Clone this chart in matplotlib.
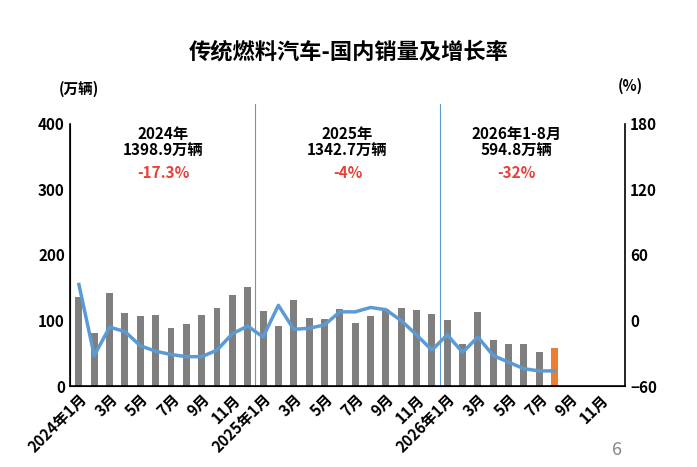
import matplotlib
matplotlib.use("Agg")
import matplotlib.pyplot as plt
import numpy as np

plt.rcParams['font.family'] = ['Noto Sans CJK SC', 'DejaVu Sans']

months = [f"{y}年{m}月" for y in (2024, 2025, 2026) for m in range(1, 13)]
sales = [136, 81, 142, 111, 107, 108, 89, 95, 108, 119, 139, 151,
         115, 92, 131, 104, 102, 118, 96, 107, 118, 119, 116, 110,
         101, 64, 113, 70, 64, 64, 52, 58]
growth = [33, -32, -6, -10, -23, -28, -31, -33, -33, -27, -12, -5,
          -15, 14, -8, -7, -4, 8, 8, 12, 10, 0, -13, -27,
          -13, -29, -15, -32, -38, -44, -46, -46]
tick_labels = ["2024年1月", "3月", "5月", "7月", "9月", "11月",
               "2025年1月", "3月", "5月", "7月", "9月", "11月",
               "2026年1月", "3月", "5月", "7月", "9月", "11月"]
annots = [("2024年\n1398.9万辆", "-17.3%"), ("2025年\n1342.7万辆", "-4%"),
          ("2026年1-8月\n594.8万辆", "-32%")]

fig = plt.figure(figsize=(6.97, 4.67), dpi=100)
ax = fig.add_axes([0.1, 0.173, 0.797, 0.562])
ax2 = ax.twinx()
x = np.arange(len(sales))
colors = ['#7f7f7f'] * (len(sales) - 1) + ['#ed7d31']
ax.bar(x, sales, width=0.45, color=colors, zorder=2)
ax2.plot(x, growth, color='#5b9bd5', lw=2.5, zorder=3)

ax.set_xlim(-0.6, 35.6)
ax.set_ylim(0, 400)
ax.set_yticks([0, 100, 200, 300, 400])
ax2.set_ylim(-60, 180)
ax2.set_yticks([-60, 0, 60, 120, 180])
ax.set_xticks(np.arange(0, 36, 2))
ax.set_xticklabels(tick_labels, rotation=45, ha='right', rotation_mode='anchor')
for a in (ax, ax2):
    a.tick_params(labelsize=11, length=0)
    for lab in a.get_yticklabels() + a.get_xticklabels():
        lab.set_fontweight('bold')
    a.spines['top'].set_visible(False)
ax.spines['right'].set_visible(False)
for s in ('left', 'right', 'bottom'):
    ax2.spines[s].set_linewidth(1.2)

for xv in (11.5, 23.5):
    ax.plot([xv, xv], [0, 430], color='#5b9bd5', lw=0.8, zorder=1, clip_on=False)

for i, (t1, t2) in enumerate(annots):
    cx = [5.5, 17.5, 28.5][i]
    ax.text(cx, 397, t1, ha='center', va='top', fontsize=11, fontweight='bold', linespacing=1.0)
    ax.text(cx, 337, t2, ha='center', va='top', fontsize=11, fontweight='bold', color='#e8413a')

fig.text(0.5, 0.875, "传统燃料汽车-国内销量及增长率", ha='center', fontsize=16, fontweight='bold')
fig.text(0.085, 0.8, "(万辆)", ha='left', fontsize=10.5, fontweight='bold')
fig.text(0.905, 0.805, "(%)", ha='center', fontsize=10.5, fontweight='bold')
fig.text(0.885, 0.025, "6", ha='center', fontsize=13, color='#888888')

fig.savefig("out.png", dpi=100)
